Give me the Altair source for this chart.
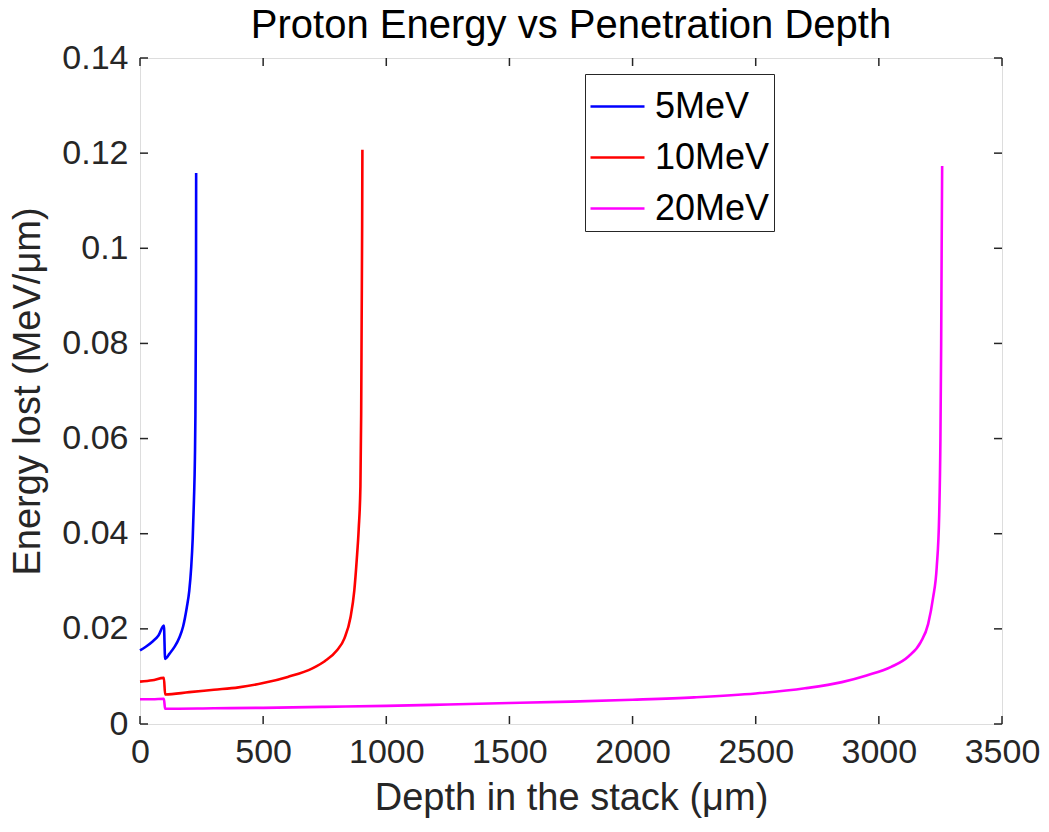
import altair as alt
import pandas as pd

FONT = "Liberation Sans"

series_names = ["5MeV", "10MeV", "20MeV"]
series_colors = ["#0000FF", "#FF0000", "#FF00FF"]

depth_5 = [0, 25, 50, 75, 97, 102, 120, 140, 160, 175, 190, 200, 208, 214, 219, 223, 225, 226.5, 227.5, 228]
energy_5 = [0.0155, 0.0163, 0.0173, 0.0186, 0.0207, 0.0137, 0.0148, 0.0162, 0.0182, 0.0205, 0.0245,
            0.0280, 0.0330, 0.0390, 0.0470, 0.0560, 0.0650, 0.0800, 0.0950, 0.1158]

depth_10 = [0, 50, 97, 102, 200, 300, 400, 500, 600, 700, 750, 800, 830, 855, 870, 880, 888, 895, 898,
            900, 902, 903]
energy_10 = [0.0089, 0.0092, 0.0097, 0.0062, 0.0067, 0.0072, 0.0077, 0.0086, 0.0099, 0.0117, 0.0132,
             0.0155, 0.0180, 0.0225, 0.0280, 0.0345, 0.0410, 0.0500, 0.0650, 0.0850, 0.1050, 0.1207]

depth_20 = [0, 50, 97, 102, 300, 500, 750, 1000, 1250, 1500, 1750, 2000, 2250, 2500, 2700, 2850, 2950,
            3050, 3120, 3170, 3200, 3220, 3235, 3245, 3250, 3253, 3255, 3257]
energy_20 = [0.0052, 0.0052, 0.0053, 0.0032, 0.0033, 0.0034, 0.0036, 0.0038, 0.0041, 0.0044, 0.0047,
             0.0051, 0.0056, 0.0064, 0.0075, 0.0088, 0.0102, 0.0120, 0.0142, 0.0172, 0.0210, 0.0265,
             0.0330, 0.0440, 0.0600, 0.0800, 0.1000, 0.1173]

x_ticks = [0, 500, 1000, 1500, 2000, 2500, 3000, 3500]
y_ticks = [0, 0.02, 0.04, 0.06, 0.08, 0.1, 0.12, 0.14]

rows = []
for name, ds, es in zip(series_names, [depth_5, depth_10, depth_20], [energy_5, energy_10, energy_20]):
    for i, (d, e) in enumerate(zip(ds, es)):
        rows.append({"series": name, "depth": d, "energy": e, "idx": i})
df = pd.DataFrame(rows)
xt = pd.DataFrame({"depth": x_ticks})
yt = pd.DataFrame({"energy": y_ticks})

W, H = 862, 666
TICK = 8
AXC = "#262626"

x_scale = alt.Scale(domain=[0, 3500], nice=False, zero=False)
y_scale = alt.Scale(domain=[0, 0.14], nice=False)

x_axis = alt.Axis(values=x_ticks, format="d", title="Depth in the stack (μm)", ticks=False, domain=False,
                  grid=False, labelFontSize=34, labelFont=FONT, labelColor=AXC, labelPadding=11,
                  labelFlush=False, labelOverlap=False,
                  titleFontSize=38, titleFont=FONT, titleColor=AXC, titleFontWeight="normal", titlePadding=10)
y_axis = alt.Axis(values=y_ticks, format="~g", title="Energy lost (MeV/μm)", ticks=False, domain=False,
                  grid=False, labelFontSize=34, labelFont=FONT, labelColor=AXC, labelPadding=12,
                  labelFlush=False, labelOverlap=False,
                  titleFontSize=38, titleFont=FONT, titleColor=AXC, titleFontWeight="normal", titlePadding=14)

x_enc = alt.X("depth:Q", scale=x_scale, axis=x_axis)
y_enc = alt.Y("energy:Q", scale=y_scale, axis=y_axis)

lines = alt.Chart(df).mark_line(strokeWidth=2.6, interpolate="monotone").encode(
    x=x_enc,
    y=y_enc,
    color=alt.Color("series:N", sort=series_names,
                    scale=alt.Scale(domain=series_names, range=series_colors),
                    legend=alt.Legend(orient="none", legendX=445, legendY=16, title=None,
                                      symbolType="stroke", symbolSize=2916, symbolStrokeWidth=2.6,
                                      labelFontSize=36, labelFont=FONT, labelColor="black",
                                      strokeColor=AXC, fillColor="white", padding=4,
                                      rowPadding=4, labelOffset=9)),
    order=alt.Order("idx:Q"),
)

xt_bottom = alt.Chart(xt).mark_rule(color=AXC, strokeWidth=1.5).encode(
    x=x_enc, y=alt.value(H), y2=alt.value(H - TICK))
xt_top = alt.Chart(xt).mark_rule(color=AXC, strokeWidth=1.5).encode(
    x=x_enc, y=alt.value(0), y2=alt.value(TICK))
yt_left = alt.Chart(yt).mark_rule(color=AXC, strokeWidth=1.5).encode(
    y=y_enc, x=alt.value(0), x2=alt.value(TICK))
yt_right = alt.Chart(yt).mark_rule(color=AXC, strokeWidth=1.5).encode(
    y=y_enc, x=alt.value(W), x2=alt.value(W - TICK))

chart = alt.layer(lines, xt_bottom, xt_top, yt_left, yt_right).properties(
    width=W, height=H,
    title=alt.TitleParams("Proton Energy vs Penetration Depth", fontSize=40, font=FONT,
                          fontWeight="normal", color="black", offset=0, dy=5),
    autosize=alt.AutoSizeParams(type="none"),
    padding={"left": 140, "top": 58, "right": 47, "bottom": 108},
).configure_view(stroke=AXC, strokeWidth=1.5).configure(background="white")

chart.save("out.html", embed_options={"renderer": "svg", "actions": False})
